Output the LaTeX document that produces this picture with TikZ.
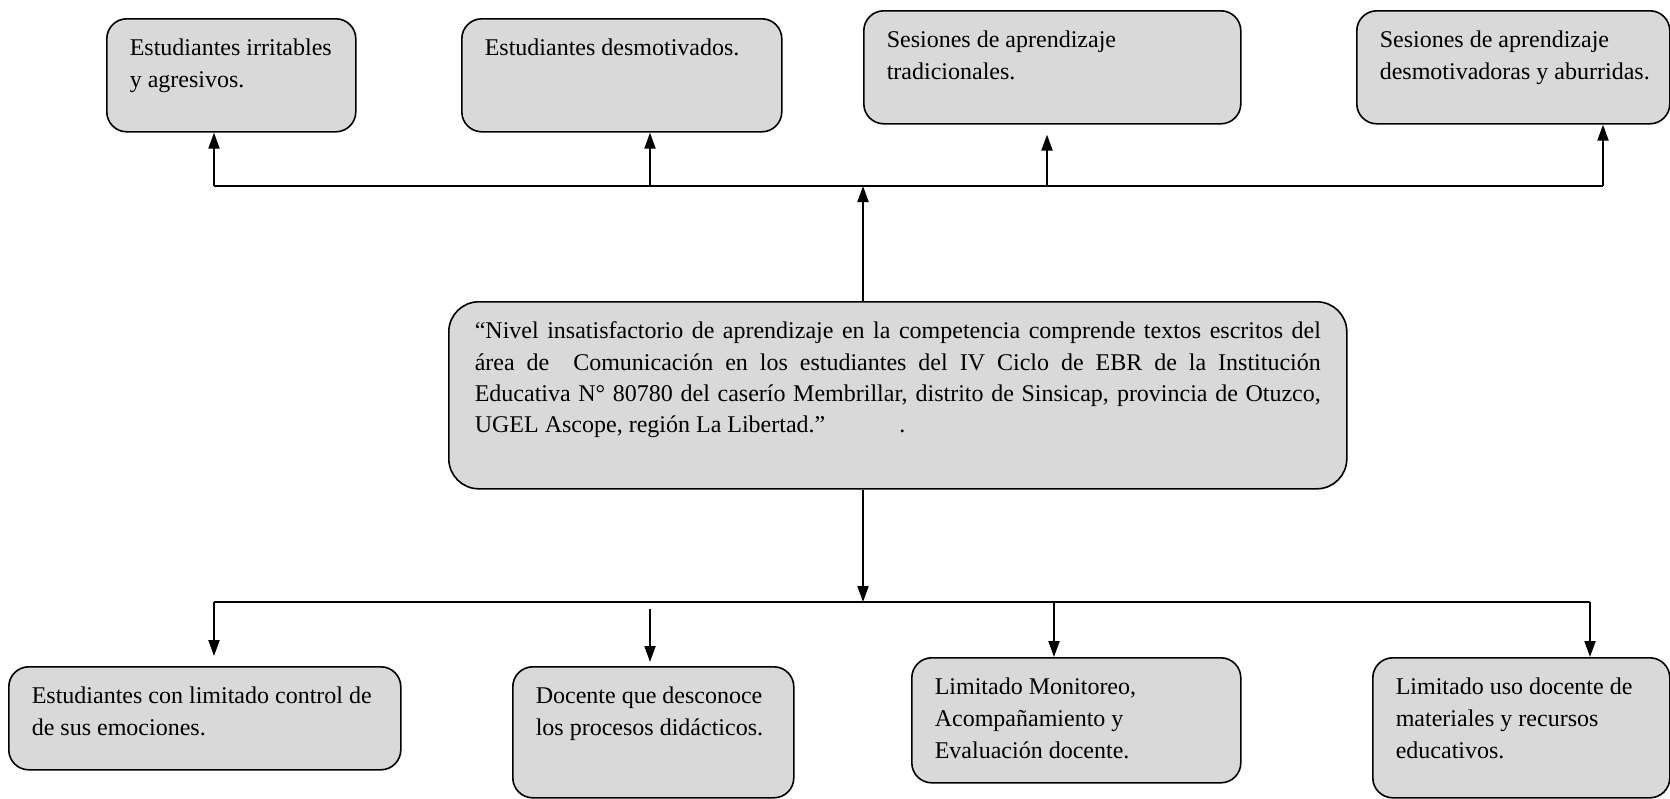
\documentclass[tikz,border=0pt]{standalone}
\usepackage{fontspec}
\setmainfont{Liberation Serif}
\usetikzlibrary{arrows.meta}
\definecolor{grisfondo}{RGB}{217,217,217}
\newcommand{\cuadro}[3]{\parbox[c][\dimexpr#2pt/2-19pt\relax][t]{\dimexpr#1pt/2-23pt\relax}{\raggedright\rule{0pt}{9pt}#3}}
\begin{document}
\begin{tikzpicture}[x=0.5pt, y=-0.5pt,
    caja/.style={draw, line width=0.8pt, fill=grisfondo, rounded corners=10pt,
      anchor=north west, inner xsep=11.5pt, inner ysep=9.5pt,
      font=\fontsize{12}{16}\selectfont},
    flecha/.style={line width=1pt, -{Triangle[length=8pt,width=5.5pt]}},
    linea/.style={line width=1pt}]
  \useasboundingbox (0,0) rectangle (1670,798);

  \node[caja] (e1) at (106,18) {\cuadro{249}{113}{Estudiantes irritables\\y agresivos.}};
  \node[caja] (e2) at (461,18) {\cuadro{320}{113}{Estudiantes desmotivados.}};
  \node[caja] (e3) at (863,10) {\cuadro{377}{113}{Sesiones de aprendizaje\\tradicionales.}};
  \node[caja] (e4) at (1356,10) {\cuadro{313}{113}{Sesiones de aprendizaje\\\mbox{desmotivadoras y aburridas.}}};

  \node[caja, rounded corners=15pt, inner xsep=13pt, font=\fontsize{12}{15.6}\selectfont] (central) at (448,301)
    {\parbox[c][74.5pt][t]{423pt}{\rule{0pt}{9pt}“Nivel insatisfactorio de aprendizaje en la competencia comprende textos escritos del\linebreak
    área de~ Comunicación en los estudiantes del IV Ciclo de EBR de la Institución\linebreak
    Educativa N° 80780 del caserío Membrillar, distrito de Sinsicap, provincia de Otuzco,\linebreak
    UGEL Ascope, región La Libertad.”\hspace{37pt}.}};

  \node[caja] (c1) at (8,666) {\cuadro{392}{103}{Estudiantes con limitado control de\\de sus emociones.}};
  \node[caja] (c2) at (512,666) {\cuadro{281}{131}{Docente que desconoce\\los procesos didácticos.}};
  \node[caja] (c3) at (911,657) {\cuadro{329}{125}{Limitado Monitoreo,\\Acompañamiento y\\Evaluación docente.}};
  \node[caja] (c4) at (1372,657) {\cuadro{297}{140}{Limitado uso docente de\\materiales y recursos\\educativos.}};

  \coordinate (ts1) at (214,186);
  \coordinate (ts2) at (650,186);
  \coordinate (ts3) at (1047,186);
  \coordinate (ts4) at (1603,186);
  \coordinate (tc) at (863,186);
  \coordinate (bc) at (863,602);
  \coordinate (bs1) at (214,602);
  \coordinate (bs2) at (650,609);
  \coordinate (bs3) at (1054,602);
  \coordinate (bs4) at (1590,602);

  \draw[linea] (ts1) -- (ts4);
  \draw[flecha] (ts1) -- (ts1 |- e1.south);
  \draw[flecha] (ts2) -- (ts2 |- e2.south);
  \draw[flecha, shorten >=5pt] (ts3) -- (ts3 |- e3.south);
  \draw[flecha] (ts4) -- (ts4 |- e4.south);
  \draw[flecha] (tc |- central.north) -- (tc);

  \draw[flecha] (bc |- central.south) -- (bc);
  \draw[linea] (bs1) -- (bs4);
  \draw[flecha, shorten >=5pt] (bs1) -- (bs1 |- c1.north);
  \draw[flecha, shorten >=2pt] (bs2) -- (bs2 |- c2.north);
  \draw[flecha] (bs3) -- (bs3 |- c3.north);
  \draw[flecha] (bs4) -- (bs4 |- c4.north);
\end{tikzpicture}
\end{document}
